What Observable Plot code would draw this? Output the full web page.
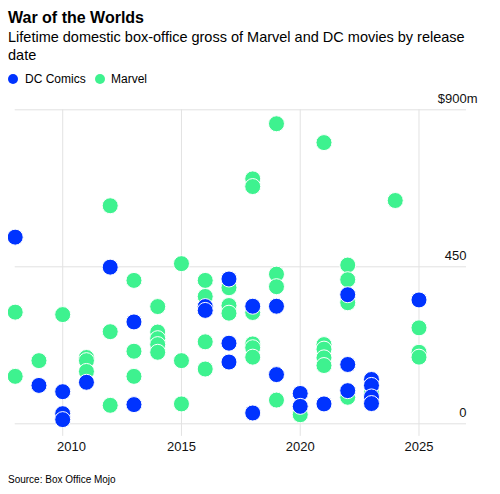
<!DOCTYPE html>
<html>
<head>
<meta charset="utf-8">
<script src="https://cdn.jsdelivr.net/npm/d3@7"></script>
<script src="https://cdn.jsdelivr.net/npm/@observablehq/plot@0.6"></script>
<style>
  body { margin: 0; background: #fff; font-family: "Liberation Sans", Arial, sans-serif; color: #000; }
  #wrap { position: relative; width: 500px; height: 494px; overflow: hidden; }
  .abs { position: absolute; white-space: nowrap; }
  #title { left: 8px; top: 10px; font-size: 16px; line-height: 16px; font-weight: bold; }
  #subtitle { left: 8px; top: 27.5px; font-size: 14.5px; line-height: 18.3px; }
  .sw { position: absolute; width: 10px; height: 10px; border-radius: 50%; top: 74px; }
  .lg { position: absolute; top: 73px; font-size: 12px; line-height: 12px; }
  #caption { left: 8px; top: 475px; font-size: 10px; line-height: 10px; }
  #chart { position: absolute; left: 8px; top: 90px; }
  #chart svg { overflow: hidden; }
</style>
</head>
<body>
<div id="wrap">
  <div id="title" class="abs">War of the Worlds</div>
  <div id="subtitle" class="abs">Lifetime domestic box-office gross of Marvel and DC movies by release<br>date</div>
  <div id="legend"></div>
  <div id="chart"></div>
  <div id="caption" class="abs">Source: Box Office Mojo</div>
</div>
<script>
// ---- data (US$ millions, lifetime domestic gross) ----
const seriesNames = ["DC Comics", "Marvel"];
const seriesColors = ["#0033ff", "#3ef28f"];

const marvelYears = [2008, 2008, 2009, 2010, 2011, 2011, 2011, 2012, 2012, 2012,
  2013, 2013, 2013, 2014, 2014, 2014, 2014, 2014, 2015, 2015, 2015,
  2016, 2016, 2016, 2016, 2017, 2017, 2017,
  2018, 2018, 2018, 2018, 2018, 2018, 2019, 2019, 2019, 2019, 2020,
  2021, 2021, 2021, 2021, 2021, 2022, 2022, 2022, 2022, 2023, 2024,
  2025, 2025, 2025];
const marvelGross = [320, 136, 181, 313, 190, 181, 150, 625, 264, 53,
  411, 208, 136, 336, 263, 244, 227, 205, 459, 181, 57,
  411, 365, 235, 157, 390, 339, 317,
  702, 680, 319, 229, 218, 191, 860, 429, 393, 68, 26,
  806, 227, 214, 189, 167, 455, 413, 347, 76, 88, 640,
  275, 205, 191];

const dcYears = [2008, 2009, 2010, 2010, 2010, 2011, 2012, 2013, 2013,
  2016, 2016, 2017, 2017, 2017, 2018, 2018, 2019, 2019, 2020, 2020,
  2021, 2022, 2022, 2022, 2023, 2023, 2023, 2023, 2025];
const dcGross = [535, 110, 92, 29, 12, 119, 449, 292, 55,
  336, 325, 415, 231, 177, 337, 31, 337, 141, 87, 50,
  57, 370, 170, 95, 127, 110, 77, 58, 355];

const yTicks = [0, 450, 900];
const yTickLabels = ["0", "450", "$900m"];
const xTicks = [2010, 2015, 2020, 2025];
const xTickLabels = ["2010", "2015", "2020", "2025"];

// ---- build tables ----
const byValueDesc = (a, b) => b.gross - a.gross;
const marvel = marvelYears.map((y, i) => ({year: y, gross: marvelGross[i], studio: "Marvel"})).sort(byValueDesc);
const dc = dcYears.map((y, i) => ({year: y, gross: dcGross[i], studio: "DC Comics"})).sort(byValueDesc);

// ---- legend ----
const legend = document.getElementById("legend");
const legendPos = [{dot: 8, text: 25}, {dot: 94.7, text: 111}];
seriesNames.forEach((name, i) => {
  const sw = document.createElement("div");
  sw.className = "sw";
  sw.style.left = legendPos[i].dot + "px";
  sw.style.background = seriesColors[i];
  legend.appendChild(sw);
  const t = document.createElement("div");
  t.className = "lg";
  t.style.left = legendPos[i].text + "px";
  t.textContent = name;
  legend.appendChild(t);
});

const grid = "#e2e2e2";
const textColor = "#111";
const xLabelData = xTicks.map((x, i) => ({x, label: xTickLabels[i]}));
const yLabelData = yTicks.map((y, i) => ({y, label: yTickLabels[i]}));

const chart = Plot.plot({
  width: 484,
  height: 370,
  marginLeft: 6.7,
  marginRight: 26,
  marginTop: 19.3,
  marginBottom: 36.7,
  x: {domain: [2008, 2027], axis: null},
  y: {domain: [0, 900], axis: null},
  style: {fontFamily: '"Liberation Sans", Arial, sans-serif', fontSize: "13px", background: "transparent", color: textColor},
  marks: [
    Plot.ruleY(yTicks, {stroke: grid, strokeWidth: 1}),
    Plot.ruleX(xTicks, {y1: 900, y2: -36, stroke: grid, strokeWidth: 1}),
    Plot.text(yLabelData.filter(d => d.y !== 900), {x: 2027, y: "y", text: "label", textAnchor: "end", dy: -11, fill: textColor, fontSize: 13}),
    Plot.text(yLabelData.filter(d => d.y === 900), {x: 2027, y: "y", text: "label", textAnchor: "end", dx: 11, dy: -11, fill: textColor, fontSize: 13}),
    Plot.text(xLabelData.filter(d => d.x !== 2010), {x: "x", y: -36, text: "label", dy: 10, fill: textColor, fontSize: 13}),
    Plot.text(xLabelData.filter(d => d.x === 2010), {x: "x", y: -36, text: "label", dy: 10, dx: 8.7, fill: textColor, fontSize: 13}),
    Plot.dot(marvel, {x: "year", y: "gross", r: 8, fill: seriesColors[1], stroke: "white", strokeWidth: 1}),
    Plot.dot(dc, {x: "year", y: "gross", r: 8, fill: seriesColors[0], stroke: "white", strokeWidth: 1})
  ]
});
document.getElementById("chart").appendChild(chart);
</script>
</body>
</html>
